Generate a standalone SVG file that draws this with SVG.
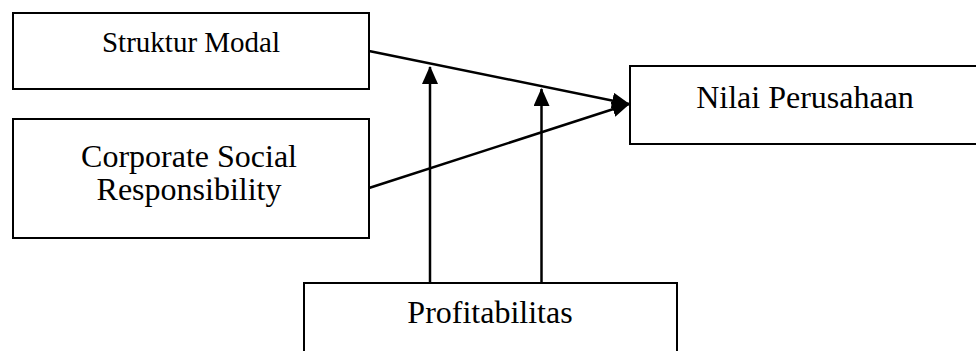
<svg xmlns="http://www.w3.org/2000/svg" width="976" height="351" viewBox="0 0 976 351">
<style>
.box{fill:#fff;stroke:#000;stroke-width:2}
.lbl{font-family:"Liberation Serif","Times New Roman",serif;font-size:32px;fill:#000;text-anchor:middle}
.edge{stroke:#000;stroke-width:2.5;fill:none}
</style>
<defs>
<marker id="ah" markerUnits="userSpaceOnUse" markerWidth="18" markerHeight="16" refX="17" refY="8" orient="auto" viewBox="0 0 18 16">
<path d="M0,0 L18,8 L0,16 Z" fill="#000"/>
</marker>
</defs>
<rect width="976" height="351" fill="#fff"/>
<g id="struktur-modal">
<rect class="box" x="13" y="13" width="356" height="76"/>
<text class="lbl" x="191" y="52" style="font-size:29px">Struktur Modal</text>
</g>
<g id="csr">
<rect class="box" x="13" y="119" width="356" height="119"/>
<text class="lbl" x="189" y="167">Corporate Social</text>
<text class="lbl" x="189" y="200">Responsibility</text>
</g>
<g id="nilai-perusahaan">
<rect class="box" x="630" y="66" width="360" height="78"/>
<text class="lbl" x="805" y="108">Nilai Perusahaan</text>
</g>
<g id="profitabilitas">
<rect class="box" x="304" y="283" width="373" height="90"/>
<text class="lbl" x="490" y="323">Profitabilitas</text>
</g>
<g id="connectors">
<line class="edge" x1="369" y1="51" x2="629" y2="104" marker-end="url(#ah)"/>
<line class="edge" x1="369" y1="188" x2="629" y2="104" marker-end="url(#ah)"/>
<line class="edge" x1="430" y1="283" x2="430" y2="67" marker-end="url(#ah)"/>
<line class="edge" x1="541.5" y1="283" x2="541.5" y2="89" marker-end="url(#ah)"/>
</g>
</svg>
